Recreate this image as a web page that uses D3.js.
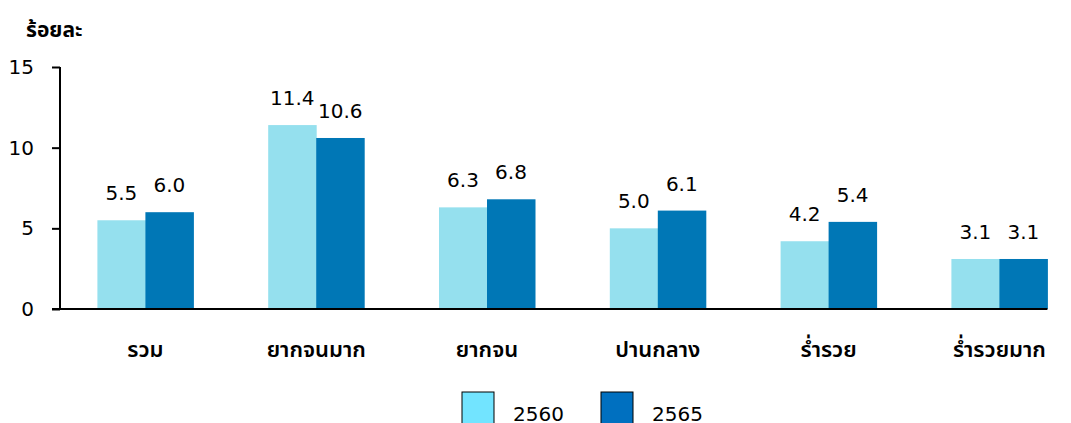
<!DOCTYPE html>
<html lang="th">
<head>
    <meta charset="UTF-8">
    <title>ร้อยละ</title>
    <style>
        body { margin: 0; background: #fff; }
        text { font-family: Tahoma, "DejaVu Sans", "Noto Sans", "Noto Sans Thai", sans-serif; fill: #000; }
    </style>
</head>
<body>

<script src="https://d3js.org/d3.v7.min.js"></script>
<script>
    var categories = ['รวม', 'ยากจนมาก', 'ยากจน', 'ปานกลาง', 'ร่ำรวย', 'ร่ำรวยมาก'];
    var seriesNames = ['2560', '2565'];
    var values2560 = [5.5, 11.4, 6.3, 5.0, 4.2, 3.1];
    var values2565 = [6.0, 10.6, 6.8, 6.1, 5.4, 3.1];
    var yTicks = [0, 5, 10, 15];

    var barColors = ['#95e0ee', '#0077b6'];
    var legendColors = ['#72e4ff', '#0070c0'];

    var width = 1071, height = 423;
    var plotLeft = 60, plotBottom = 309, plotTop = 67;

    var svg = d3.select('body').append('svg')
        .attr('width', width)
        .attr('height', height);

    var x0 = d3.scaleBand()
        .domain(categories)
        .range([plotLeft, plotLeft + 170.8 * categories.length])
        .padding(0);
    var x1 = d3.scaleBand()
        .domain(seriesNames)
        .range([0, 96]);
    var y = d3.scaleLinear()
        .domain([0, 15])
        .range([plotBottom, plotTop]);

    // y axis
    var yAxis = d3.axisLeft(y).tickValues(yTicks).tickSize(8).tickPadding(10);
    var gy = svg.append('g')
        .attr('transform', 'translate(' + plotLeft + ',0)')
        .call(yAxis);
    gy.select('.domain').remove();
    gy.append('line')
        .attr('x1', 0).attr('x2', 0)
        .attr('y1', y(15)).attr('y2', y(0))
        .attr('stroke', '#000').attr('stroke-width', 2);
    gy.selectAll('.tick line').attr('stroke', '#000').attr('stroke-width', 2);
    gy.selectAll('.tick text')
        .style('font-size', '20px')
        .attr('text-anchor', 'end')
        .attr('x', -26);

    svg.append('text')
        .attr('x', 26)
        .attr('y', 37)
        .style('font-size', '21px')
        .style('font-weight', 'bold')
        .text('ร้อยละ');

    var data = categories.map(function(c, i) {
        return [
            {cat: c, s: seriesNames[0], v: values2560[i]},
            {cat: c, s: seriesNames[1], v: values2565[i]}
        ];
    });

    var groups = svg.append('g').selectAll('g')
        .data(data)
        .enter().append('g')
        .attr('transform', function(d) {
            return 'translate(' + (x0(d[0].cat) + x0.bandwidth() / 2 - 48) + ',0)';
        });

    groups.selectAll('rect')
        .data(function(d) { return d; })
        .enter().append('rect')
        .attr('x', function(d) { return x1(d.s); })
        .attr('width', x1.bandwidth() + 0.5)
        .attr('y', function(d) { return y(d.v); })
        .attr('height', function(d) { return y(0) - y(d.v); })
        .attr('fill', function(d, i) { return barColors[i]; });

    groups.selectAll('text')
        .data(function(d) { return d; })
        .enter().append('text')
        .attr('x', function(d) { return x1(d.s) + x1.bandwidth() / 2; })
        .attr('y', function(d) { return y(d.v) - 20; })
        .attr('text-anchor', 'middle')
        .style('font-size', '20px')
        .text(function(d) { return d.v.toFixed(1); });

    // x axis line
    svg.append('line')
        .attr('x1', 52).attr('x2', x0(categories[5]) + x0.bandwidth() / 2 + 48)
        .attr('y1', y(0)).attr('y2', y(0))
        .attr('stroke', '#000').attr('stroke-width', 2);

    svg.append('g').selectAll('text')
        .data(categories)
        .enter().append('text')
        .attr('x', function(d) { return x0(d) + x0.bandwidth() / 2; })
        .attr('y', 357)
        .attr('text-anchor', 'middle')
        .style('font-size', '22px')
        .style('font-weight', '600')
        .text(function(d) { return d; });

    // legend
    var legend = svg.append('g').selectAll('g')
        .data(seriesNames)
        .enter().append('g')
        .attr('transform', function(d, i) { return 'translate(' + (462 + i * 139) + ',392)'; });
    legend.append('rect')
        .attr('width', 32).attr('height', 34)
        .attr('fill', function(d, i) { return legendColors[i]; })
        .attr('stroke', '#000').attr('stroke-width', 1);
    legend.append('text')
        .attr('x', 51).attr('y', 29)
        .style('font-size', '20px')
        .text(function(d) { return d; });
</script>
</body>
</html>
